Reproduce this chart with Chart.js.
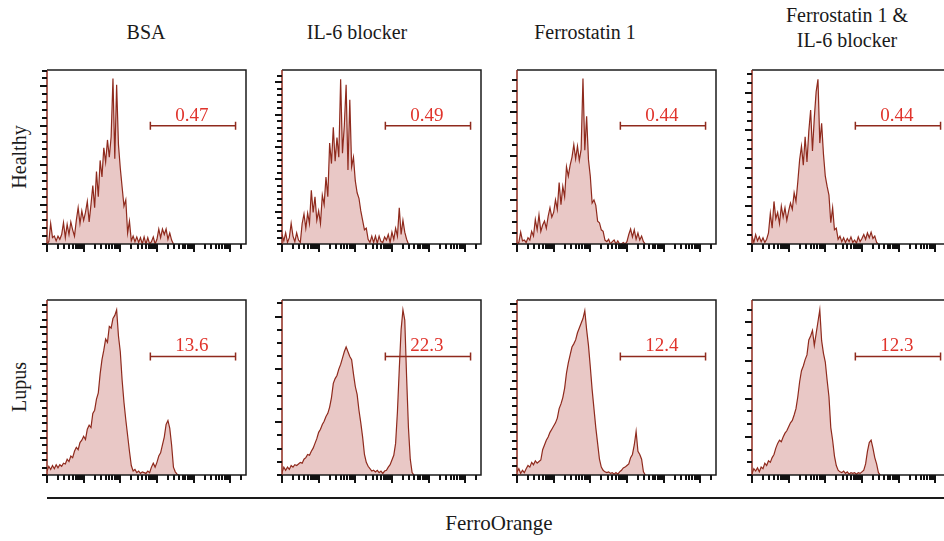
<!DOCTYPE html>
<html>
<head>
<meta charset="utf-8">
<script src="https://cdn.jsdelivr.net/npm/chart.js@4/dist/chart.umd.min.js"></script>
<style>
  body { margin: 0; width: 944px; height: 541px; overflow: hidden; background: #fff; position: relative;
         font-family: "Liberation Serif", "DejaVu Serif", serif; color: #1a1a1a; }
  canvas { position: absolute; }
  .lbl { position: absolute; transform: translate(-50%, -50%); white-space: nowrap; text-align: center; line-height: 25px; }
  .row { transform: translate(-50%, -50%) rotate(-90deg); }
  #rule { position: absolute; left: 47px; top: 497px; width: 897px; height: 2px; background: #1a1a1a; }
</style>
</head>
<body>
<div id="rule"></div>
<script>
// panel titles and row names
const treatments = ['BSA', 'IL-6 blocker', 'Ferrostatin 1', 'Ferrostatin 1 &<br>IL-6 blocker'];
const donors = ['Healthy', 'Lupus'];
const axisTitle = 'FerroOrange';

// % of cells inside the gate
const gateLabels = [['0.47', '0.49', '0.44', '0.44'], ['13.6', '22.3', '12.4', '12.3']];

// histogram counts, one value per 0.05 decade bin starting at 10^0
const healthyBSA = [0,0.3,2.6,0.8,1.0,0.4,1.0,0.6,1.2,2.7, 0.8,2.5,1.2,2.8,1.8,1.0,3.0,4.6,2.6,4.2,
  3.0,4.0,5.4,2.8,5.0,7.4,4.6,9.2,6.0,10.6, 8.5,12.2,10.4,13.2,11.0,13.6,21.0,10.8,20.2,12.6,
  9.6,7.2,4.8,5.6,1.4,2.9,0.4,1.0,0.3,0.9, 0.2,0.8,0,0.9,0,0.8,0,0.3,0.9,0,
  0.6,1.9,0.8,1.9,1.2,1.9,0.6,1.4,0.5,0];
const healthyIL6 = [1.2,0.4,1.4,0.2,0.8,2.6,1.0,0.3,1.4,0.5, 0.2,2.6,3.8,2.0,3.9,2.6,6.8,4.0,6.0,3.0,
  4.2,2.6,6.2,5.0,8.5,6.0,12.8,10.2,14.8,10.5, 13.5,11.0,20.9,11.5,15.0,20.2,9.4,18.3,9.8,11.0,
  8.0,6.5,5.8,4.2,3.0,1.8,2.0,0.6,0.2,1.0, 0.2,1.0,0.1,1.0,0.3,0.2,0.9,0.5,1.2,0.2,
  1.5,0.6,2.0,1.0,4.6,1.2,3.0,1.5,0.6,0];
const healthyFer = [0,0.2,1.5,0.4,0.5,0.2,0.8,0.5,1.6,1.0, 3.1,1.8,3.7,1.6,2.4,2.9,2.0,3.5,4.6,3.4,
  4.0,5.6,4.4,7.8,5.0,7.3,6.0,9.8,8.6,10.0, 11.0,12.6,10.8,12.4,10.6,12.0,21.0,11.9,16.2,10.7,
  8.6,5.2,5.6,4.9,2.9,2.7,1.8,1.6,0.5,0.3, 0.6,0,0.3,0.5,0,0.4,0,0,0.2,0,
  0.3,1.2,1.9,0.9,1.8,0.6,1.4,0.5,1.0,0.3, 0];
const healthyFerIL6 = [1.0,0.2,1.2,0.4,0.9,0.3,0.8,0.2,0.6,1.4, 3.9,2.0,5.4,3.2,4.0,2.6,4.8,3.4,4.6,3.0,
  4.2,5.2,4.4,6.5,5.4,7.9,10.7,12.4,10.0,13.6, 10.4,14.3,17.0,11.8,16.0,19.3,20.9,12.8,15.3,11.4,
  8.6,7.3,6.2,2.7,4.6,1.8,2.0,0.6,1.0,0.3, 0.8,0.2,0.7,0.3,0.9,0.2,0.5,0.1,0.9,0.3,
  0.7,1.2,0.6,1.4,0.8,1.5,0.7,1.0,0.2,0];
const lupusBSA = [0.5,1.1,0.7,1.2,0.8,1.3,0.9,1.3,1.1,1.5, 1.4,2.0,1.7,2.4,2.2,3.0,3.5,3.2,4.1,4.4,
  4.9,4.5,5.8,6.3,6.0,7.8,8.2,9.6,10.4,12.8, 14.6,15.8,17.2,16.8,18.8,18.6,19.8,20.2,20.9,17.6,
  15.6,12.0,9.2,7.0,5.0,3.0,1.2,0.5,0.7,0.3, 0.5,0.2,0.4,0.3,0.2,0.5,0.3,1.0,1.5,1.0,
  1.6,2.4,2.8,3.8,4.8,6.4,6.9,5.9,3.8,1.0, 0.4,0.1,0];
const lupusIL6 = [0.3,1.0,0.6,1.0,0.7,1.2,1.0,1.3,1.2,1.4, 1.6,1.5,2.0,2.2,2.6,2.5,3.0,3.4,4.0,4.6,
  5.4,5.8,6.4,6.8,7.4,7.8,8.6,9.8,11.6,12.2, 12.6,13.4,14.0,14.8,15.6,16.2,15.6,15.0,14.6,12.8,
  11.2,10.2,8.2,6.6,4.8,2.6,1.6,1.1,0.8,0.5, 0.6,0.4,0.6,0.3,0.5,0.2,0.5,0.6,1.0,1.3,
  1.9,2.5,4.0,8.0,13.4,18.4,20.9,19.6,12.4,6.0, 2.0,0.3,0];
const lupusFer = [0.4,0.8,0.2,0.6,0.3,0.8,1.2,1.0,1.6,1.3, 1.8,1.5,1.7,1.9,3.2,3.8,4.4,4.8,5.4,5.8,
  6.2,6.6,7.2,8.4,9.0,9.8,11.0,12.9,14.2,15.2, 16.2,16.6,17.1,18.0,18.6,19.2,19.8,20.8,18.4,16.4,
  13.7,10.8,8.4,6.0,4.0,2.0,1.0,0.6,0.4,0.3, 0.4,0.2,0.3,0.1,0.3,0.1,0.4,0.6,0.9,1.0,
  1.2,1.4,2.2,2.6,3.8,5.5,3.0,2.6,2.0,0.4, 0];
const lupusFerIL6 = [0.2,0.8,0.5,0.9,0.4,1.0,0.8,1.5,1.2,1.8, 1.6,2.2,2.6,3.4,4.0,4.4,4.2,4.8,5.3,5.6,
  6.1,6.6,6.9,7.6,8.4,9.9,11.8,13.2,13.8,14.6, 15.2,17.1,17.6,18.3,16.4,17.9,19.4,20.9,17.0,15.4,
  14.3,12.0,9.9,6.0,4.4,2.4,1.2,0.6,0.4,0.3, 0.5,0.2,0.4,0.1,0.3,0.2,0.3,0.1,0.3,0.2,
  0.4,0.6,1.4,3.0,4.1,4.4,3.4,2.2,1.4,0.3, 0];

const series = [[healthyBSA, healthyIL6, healthyFer, healthyFerIL6],
                [lupusBSA, lupusIL6, lupusFer, lupusFerIL6]];

const binStep = 0.05;          // decades per bin
const xMax = Math.pow(10, 5.43);
const decades = [1, 10, 100, 1000, 10000, 100000];
const tickMultipliers = [1, 2, 3, 4, 5, 6, 7, 8, 9];
const gateFrom = Math.pow(10, 2.82), gateTo = Math.pow(10, 5.145), gateY = 15;
const labelAt = Math.pow(10, 3.95);
const yMax = [22.07, 22.15];
const yTickStep = [[1, 0.82, 1.39, 1.2], [0.937, 1.67, 1.084, 1.61]];
const yMajorEvery = [[5, 5, 4, 4], [5, 4, 5, 3]];

// layout
const colLeft = [47, 282, 517, 752];
const rowTop = [70, 300];
const boxW = 199, boxH = [174, 175];
const pad = { left: 12, right: 4, top: 4, bottom: 12 };

const lineColor = '#8f2a1d';
const fillColor = 'rgba(212,146,142,0.5)';

function addText(html, x, y, size, cls) {
  const d = document.createElement('div');
  d.className = 'lbl' + (cls ? ' ' + cls : '');
  d.style.left = x + 'px';
  d.style.top = y + 'px';
  d.style.fontSize = size + 'px';
  d.innerHTML = html;
  document.body.appendChild(d);
}

const panelFrame = {
  id: 'panelFrame',
  afterDatasetsDraw(chart, args, o) {
    const { ctx, chartArea: a, scales: { x, y } } = chart;
    ctx.save();
    ctx.lineWidth = 1.5;
    ctx.strokeStyle = '#1b1b1b';
    ctx.beginPath();
    ctx.moveTo(a.left, a.top); ctx.lineTo(a.right, a.top);
    ctx.lineTo(a.right, a.bottom); ctx.lineTo(a.left, a.bottom);
    ctx.stroke();
    ctx.strokeStyle = lineColor;
    ctx.beginPath(); ctx.moveTo(a.left, a.top); ctx.lineTo(a.left, a.bottom); ctx.stroke();

    ctx.strokeStyle = '#111';
    ctx.lineWidth = 2;
    ctx.beginPath();
    x.ticks.forEach(t => {
      const px = Math.round(x.getPixelForValue(t.value));
      ctx.moveTo(px, a.bottom); ctx.lineTo(px, a.bottom + (t.major ? 8 : 5));
    });
    y.ticks.forEach(t => {
      const py = Math.round(y.getPixelForValue(t.value));
      ctx.moveTo(a.left, py); ctx.lineTo(a.left - (t.major ? 7 : 5), py);
    });
    ctx.stroke();

    // gate
    const g0 = x.getPixelForValue(gateFrom), g1 = x.getPixelForValue(gateTo), gy = y.getPixelForValue(gateY);
    ctx.strokeStyle = lineColor;
    ctx.lineWidth = 1.5;
    ctx.beginPath();
    ctx.moveTo(g0, gy); ctx.lineTo(g1, gy);
    ctx.moveTo(g0, gy - 4); ctx.lineTo(g0, gy + 4);
    ctx.moveTo(g1, gy - 4); ctx.lineTo(g1, gy + 4);
    ctx.stroke();
    ctx.fillStyle = '#e0342c';
    ctx.font = '19px "Liberation Serif", serif';
    ctx.textAlign = 'center';
    ctx.textBaseline = 'alphabetic';
    ctx.fillText(o.label, x.getPixelForValue(labelAt), gy - 5);
    ctx.restore();
  }
};

donors.forEach((donor, r) => {
  treatments.forEach((trt, c) => {
    const cv = document.createElement('canvas');
    cv.width = boxW + pad.left + pad.right;
    cv.height = boxH[r] + pad.top + pad.bottom;
    cv.style.left = (colLeft[c] - pad.left) + 'px';
    cv.style.top = (rowTop[r] - pad.top) + 'px';
    document.body.appendChild(cv);

    const pts = series[r][c].map((v, i) => ({ x: Math.pow(10, i * binStep), y: v }));
    const step = yTickStep[r][c], every = yMajorEvery[r][c];

    new Chart(cv, {
      type: 'line',
      data: {
        datasets: [{
          data: pts,
          borderColor: lineColor,
          borderWidth: 1.2,
          backgroundColor: fillColor,
          fill: 'origin',
          pointRadius: 0,
          tension: 0
        }]
      },
      options: {
        responsive: false,
        animation: false,
        layout: { padding: pad },
        plugins: { legend: { display: false }, tooltip: { enabled: false }, panelFrame: { label: gateLabels[r][c] } },
        scales: {
          x: {
            type: 'logarithmic', min: 1, max: xMax,
            grid: { display: false, drawTicks: false }, border: { display: false },
            ticks: { display: false },
            afterBuildTicks: s => {
              const t = [];
              decades.forEach(d => tickMultipliers.forEach(k => {
                if (d * k <= xMax) t.push({ value: d * k, major: k === 1 });
              }));
              s.ticks = t;
            }
          },
          y: {
            type: 'linear', min: 0, max: yMax[r],
            grid: { display: false, drawTicks: false }, border: { display: false },
            ticks: { display: false },
            afterBuildTicks: s => {
              const t = [];
              for (let i = 0; i * step <= yMax[r] + 0.01; i++) t.push({ value: i * step, major: i % every === 0 && i > 0 });
              s.ticks = t;
            }
          }
        }
      },
      plugins: [panelFrame]
    });
  });
});

const titleX = [146, 357, 585, 847];
const titleY = [32, 32, 32, 28];
treatments.forEach((t, c) => addText(t, titleX[c], titleY[c], 20));
addText(donors[0], 19, 157, 20, 'row');
addText(donors[1], 19, 387, 20, 'row');
addText(axisTitle, 499, 523, 21);
</script>
</body>
</html>
